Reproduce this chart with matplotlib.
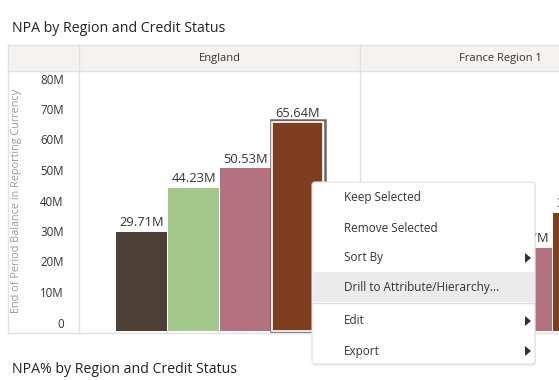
import matplotlib
matplotlib.use("Agg")
import matplotlib.pyplot as plt
from matplotlib.patches import Rectangle, FancyBboxPatch, Polygon

plt.rcParams['font.family'] = ['Open Sans', 'DejaVu Sans']

# dane
status = ['A', 'B', 'C', 'D']
kolory = ['#4d4037', '#a2c98b', '#b47180', '#7f3f1f']
england = [29.71, 44.23, 50.53, 65.64]
france = [18.20, 22.40, 24.47, 35.92]
regiony = ['England', 'France Region 1']
ticki = [0, 10, 20, 30, 40, 50, 60, 70, 80]
tick_lab = ['0', '10M', '20M', '30M', '40M', '50M', '60M', '70M', '80M']
menu = ['Keep Selected', 'Remove Selected', 'Sort By', 'Drill to Attribute/Hierarchy...', 'Edit', 'Export']
strzalki = [False, False, True, False, True, True]

W, H = 559, 380
fig = plt.figure(figsize=(W / 100, H / 100), dpi=100)

def px(x0, y0, x1, y1):
    # prostokat w pikselach (y od gory) -> wspolrzedne figury
    return [x0 / W, 1 - y1 / H, (x1 - x0) / W, (y1 - y0) / H]

# tlo: tabela
bg = fig.add_axes([0, 0, 1, 1], zorder=-1)
bg.set_xlim(0, W)
bg.set_ylim(H, 0)
bg.axis('off')
linia = '#e2e2e2'
bg.add_patch(Rectangle((8, 45), W, 26, facecolor='#f4f3f2', edgecolor='none'))
bg.plot([8, W], [45, 45], color=linia, lw=1)
bg.plot([8, W], [71, 71], color=linia, lw=1)
bg.plot([8, W], [333, 333], color=linia, lw=1)
bg.plot([8, 8], [45, 333], color=linia, lw=1)
bg.plot([79, 79], [45, 333], color=linia, lw=1)
bg.plot([360, 360], [45, 333], color=linia, lw=1)
bg.text(12, 28.5, 'NPA by Region and Credit Status', fontsize=10.2, color='#222222', va='center')
bg.text(12, 369.5, 'NPA% by Region and Credit Status', fontsize=10.2, color='#222222', va='center')
bg.text(219.5, 58, regiony[0], fontsize=8, color='#333333', ha='center', va='center')
bg.text(500.5, 58, regiony[1], fontsize=8, color='#333333', ha='center', va='center')
bg.text(17, 201, 'End of Period Balance in Reporting Currency', fontsize=7.8, color='#9a9a9a',
        rotation=90, ha='center', va='center')

# panele ze slupkami
krok = 52.0
skala = 3.05  # piksele na 1M
xlim = (-62.5 / krok, 281 / krok - 62.5 / krok)
ymin = -(331 - 322.5) / skala
ylim = (ymin, (322.5 - 71) / skala)
x = list(range(len(status)))

def panel(left, wartosci, osie):
    ax = fig.add_axes(px(left, 71, left + 281, 331))
    ax.set_xlim(*xlim)
    ax.set_ylim(*ylim)
    ax.patch.set_alpha(0)
    for s in ax.spines.values():
        s.set_visible(False)
    ax.set_xticks([])
    if osie:
        ax.set_yticks(ticki)
        ax.set_yticklabels(tick_lab, fontsize=8.3, color='#333333')
        ax.tick_params(axis='y', length=0, pad=11)
    else:
        ax.set_yticks([])
    wys = [v - ymin for v in wartosci]
    bary = ax.bar(x, wys, bottom=ymin, width=51 / krok, color=kolory, edgecolor='none')
    for xi, v in zip(x, wartosci):
        ax.text(xi, v + 2.5 / skala, f'{v:.2f}M', ha='center', va='bottom', fontsize=9.3, color='#333333')
    return ax, bary

ax1, bary1 = panel(79, england, True)
panel(360, france, False)

# zaznaczony slupek
b = bary1[3]
ax1.add_patch(Rectangle((b.get_x() - 1.5 / krok, ymin), b.get_width() + 3 / krok,
                        b.get_height() + 2.5 / skala,
                        facecolor='none', edgecolor='#666666', lw=1.8, clip_on=False))
ax1.add_patch(Rectangle((b.get_x(), ymin), b.get_width(), b.get_height(),
                        facecolor='none', edgecolor='white', lw=1.2, clip_on=False))

# menu kontekstowe
ov = fig.add_axes([0, 0, 1, 1], zorder=10)
ov.set_xlim(0, W)
ov.set_ylim(H, 0)
ov.axis('off')
ov.add_patch(FancyBboxPatch((313, 184), 223, 182, boxstyle='round,pad=0,rounding_size=3',
                            facecolor='#d0d0d0', edgecolor='none', alpha=0.35))
ov.add_patch(FancyBboxPatch((312, 182), 223, 182, boxstyle='round,pad=0,rounding_size=3',
                            facecolor='white', edgecolor='#e0e0e0', lw=0.8))
ov.add_patch(Rectangle((312.5, 272), 222, 30, facecolor='#ebebeb', edgecolor='none'))
ov.plot([313, 534], [303, 303], color='#dcdcdc', lw=1)
ys = [198, 228, 258, 288, 321, 351]
for y, t, s in zip(ys, menu, strzalki):
    ov.text(344, y, t, fontsize=8.5, color='#333333', va='center')
    if s:
        ov.add_patch(Polygon([[525, y - 5], [525, y + 5], [531, y]], closed=True,
                             facecolor='#333333', edgecolor='none'))

fig.savefig('out.png', dpi=100)
